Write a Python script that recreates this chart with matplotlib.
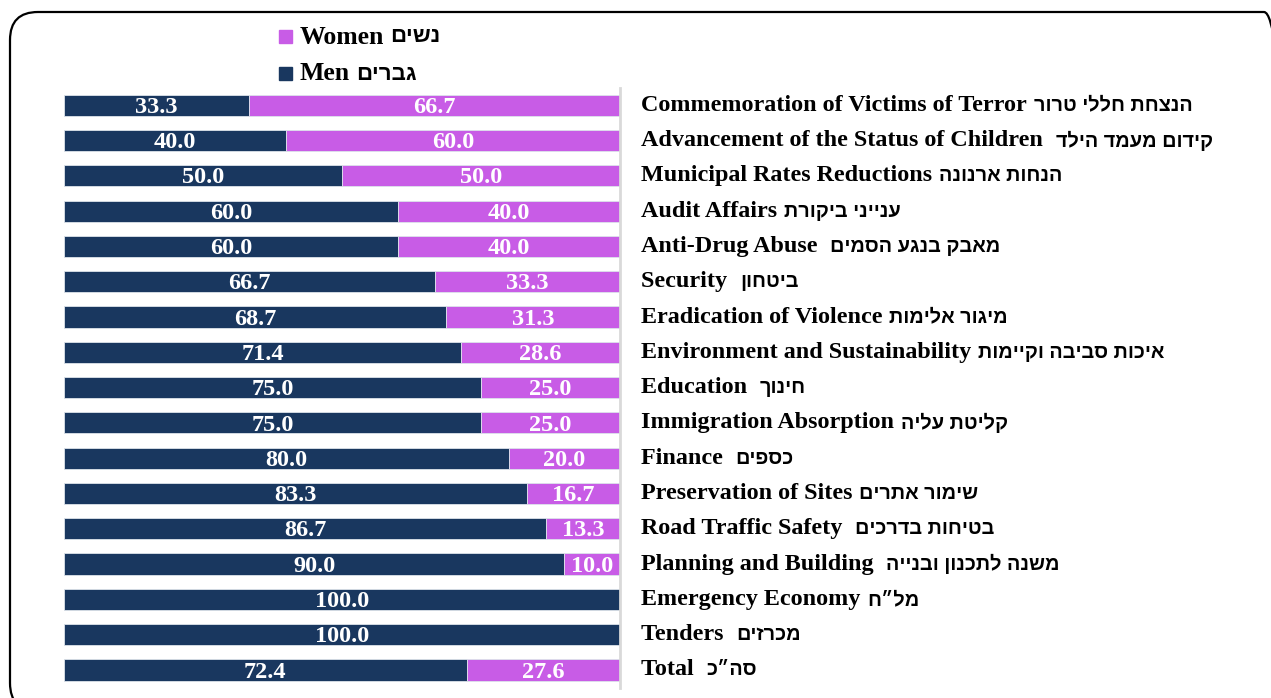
import matplotlib.pyplot as plt
from matplotlib.patches import FancyBboxPatch, Rectangle
from matplotlib.text import Annotation
from matplotlib.transforms import Affine2D
import numpy as np

categories_en = [
    "Commemoration of Victims of Terror", "Advancement of the Status of Children ",
    "Municipal Rates Reductions", "Audit Affairs", "Anti-Drug Abuse ", "Security ",
    "Eradication of Violence", "Environment and Sustainability", "Education ",
    "Immigration Absorption", "Finance ", "Preservation of Sites", "Road Traffic Safety ",
    "Planning and Building ", "Emergency Economy", "Tenders ", "Total ",
]
categories_he = [
    "הנצחת חללי טרור", "קידום מעמד הילד", "הנחות ארנונה", "ענייני ביקורת",
    "מאבק בנגע הסמים", "ביטחון", "מיגור אלימות", "איכות סביבה וקיימות", "חינוך",
    "קליטת עליה", "כספים", "שימור אתרים", "בטיחות בדרכים", "משנה לתכנון ובנייה",
    "מל״ח", "מכרזים", "סה״כ",
]
men = [33.3, 40.0, 50.0, 60.0, 60.0, 66.7, 68.7, 71.4, 75.0, 75.0, 80.0, 83.3, 86.7, 90.0, 100.0, 100.0, 72.4]
women = [66.7, 60.0, 50.0, 40.0, 40.0, 33.3, 31.3, 28.6, 25.0, 25.0, 20.0, 16.7, 13.3, 10.0, 0.0, 0.0, 27.6]
legend_en = ["Women", "Men"]
legend_he = ["נשים", "גברים"]

NAVY = "#19375F"
VIOLET = "#C85CE6"
SERIF = ["Liberation Serif", "DejaVu Serif"]
HEB = ["Liberation Sans", "DejaVu Sans"]
W, H = 1271, 698

fig = plt.figure(figsize=(W / 100, H / 100), dpi=100)
# pixel coordinates, origin bottom-left
px = Affine2D().scale(1 / W, 1 / H) + fig.transFigure

# rounded frame: left 10, top 12 (from top), running off right and bottom edges
fig.patches.append(FancyBboxPatch((10, H - 711), 1282, 699,
                                  boxstyle="round,pad=0,rounding_size=28",
                                  transform=px, fill=False,
                                  edgecolor="black", linewidth=1.6))

ax = fig.add_axes([64 / W, 10.4 / H, 556 / W, 600 / H])
y = np.arange(len(men))
m = np.array(men)
w = np.array(women)
ax.barh(y, m, height=0.6, color=NAVY, edgecolor="#DDE3EA", linewidth=0.6)
ax.barh(y, w, left=m, height=0.6, color=VIOLET, edgecolor="#DDE3EA", linewidth=0.6)
ax.set_xlim(0, 100)
ax.set_ylim(len(men) - 0.5, -0.5)

for i in range(len(men)):
    if m[i] > 0:
        ax.text(m[i] / 2, i + 0.06, f"{m[i]:.1f}", ha="center", va="center", color="white",
                fontsize=17.5, fontweight="bold", family=SERIF)
    if w[i] > 0:
        ax.text(m[i] + w[i] / 2, i + 0.06, f"{w[i]:.1f}", ha="center", va="center", color="white",
                fontsize=17.5, fontweight="bold", family=SERIF)

for s in ["top", "left", "bottom"]:
    ax.spines[s].set_visible(False)
ax.spines["right"].set_color("#D9D9D9")
ax.spines["right"].set_linewidth(2)
ax.set_xticks([])
ax.set_yticks([])

for i, (en, he) in enumerate(zip(categories_en, categories_he)):
    t = ax.annotate(en, xy=(1, i), xycoords=("axes fraction", "data"), xytext=(15, 0),
                    textcoords="offset points", ha="left", va="center",
                    fontsize=17.4, fontweight="bold", family=SERIF, annotation_clip=False)
    ax.annotate(he[::-1], xy=(1, 0.5), xycoords=t, xytext=(5, 0), textcoords="offset points",
                ha="left", va="center", fontsize=14.3, fontweight="bold", family=HEB,
                annotation_clip=False)

# legend (Women above Men)
for k, (en, he, col) in enumerate(zip(legend_en, legend_he, [VIOLET, NAVY])):
    yc = 36 + 37 * k
    fig.patches.append(Rectangle((279, H - yc - 6.5), 13, 13, transform=px, color=col))
    t = fig.text(300 / W, 1 - (yc + 1) / H, en, ha="left", va="center", fontsize=18.5,
                 fontweight="bold", family=SERIF)
    fig.add_artist(Annotation(he[::-1], xy=(1, 0.5), xycoords=t, xytext=(4, 0),
                              textcoords="offset points", ha="left", va="center",
                              fontsize=16, fontweight="bold", family=HEB))

fig.savefig("out.png", dpi=100)
